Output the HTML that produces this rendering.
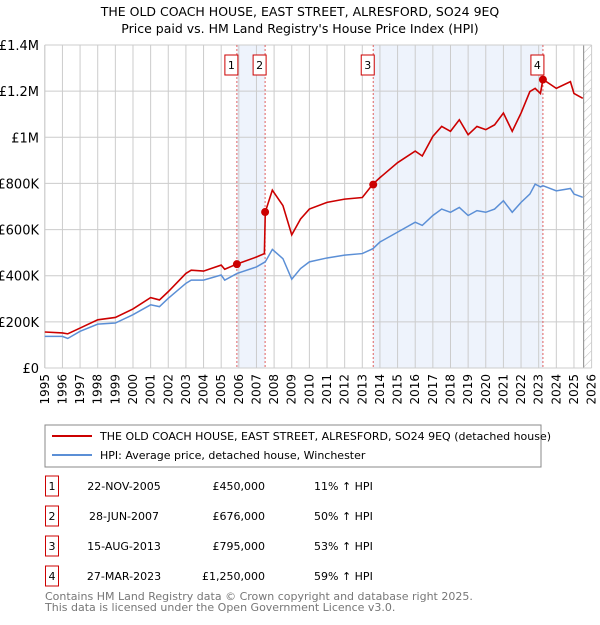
<!DOCTYPE html>
<html><head><meta charset="utf-8"><style>
body{margin:0;background:#fff;font-family:"Liberation Sans","DejaVu Sans",sans-serif;}
svg text{font-family:"DejaVu Sans","Liberation Sans",sans-serif;}
</style></head><body>
<svg id="chart" width="600" height="620" xmlns="http://www.w3.org/2000/svg">
<defs><pattern id="hatch" width="6" height="6" patternUnits="userSpaceOnUse" patternTransform="rotate(45)"><line x1="0" y1="0" x2="0" y2="6" stroke="#bbb" stroke-width="1"/></pattern></defs>
<text x="300" y="16" text-anchor="middle" font-size="12.5">THE OLD COACH HOUSE, EAST STREET, ALRESFORD, SO24 9EQ</text>
<text x="300" y="33" text-anchor="middle" font-size="12.5">Price paid vs. HM Land Registry's House Price Index (HPI)</text>
<g id="plot"></g>
<rect x="45" y="425" width="496" height="42" fill="#fff" stroke="#888"/>
<line x1="52" y1="436" x2="92" y2="436" stroke="#cc0000" stroke-width="2"/>
<text x="100" y="440" font-size="11">THE OLD COACH HOUSE, EAST STREET, ALRESFORD, SO24 9EQ (detached house)</text>
<line x1="52" y1="455" x2="92" y2="455" stroke="#5b8fd6" stroke-width="2"/>
<text x="100" y="459" font-size="11">HPI: Average price, detached house, Winchester</text>
<g id="table" font-size="11"></g>
<text x="45" y="600" font-size="11" fill="#777">Contains HM Land Registry data © Crown copyright and database right 2025.</text>
<text x="45" y="611" font-size="11" fill="#777">This data is licensed under the Open Government Licence v3.0.</text>
</svg>
<script>
const years=[1995,1996,1996.3,1997,1998,1999,2000,2001,2001.5,2002,2003,2003.3,2004,2005,2005.2,2005.9,2007,2007.45,2007.5,2007.9,2008.5,2009,2009.5,2010,2011,2012,2013,2013.6,2014,2015,2016,2016.4,2017,2017.5,2018,2018.5,2019,2019.5,2020,2020.5,2021,2021.5,2022,2022.5,2022.8,2023.1,2023.24,2024,2024.8,2025,2025.5];
const hpiValues=[137,137,128,159,190,195,231,274,266,302,367,381,381,403,381,410,438,458,460,514,474,385,431,460,477,489,496,517,546,589,632,618,661,689,675,696,661,682,675,689,725,675,718,754,797,785,790,768,778,754,740];
const priceValues=[156,152,148,173,209,219,256,305,295,331,410,424,420,446,428,451,481,496,676,771,704,577,646,689,718,732,739,797,825,890,940,919,1004,1047,1026,1076,1011,1047,1033,1054,1105,1026,1105,1198,1212,1190,1251,1212,1241,1190,1169];
const saleYears=[2005.89,2007.49,2013.62,2023.24];
const salePrices=[450,676,795,1250];
const saleDates=["22-NOV-2005","28-JUN-2007","15-AUG-2013","27-MAR-2023"];
const saleLabels=["£450,000","£676,000","£795,000","£1,250,000"];
const saleHpi=["11% ↑ HPI","50% ↑ HPI","53% ↑ HPI","59% ↑ HPI"];
const yTicks=[0,200,400,600,800,1000,1200,1400];
const yTickLabels=["£0","£200K","£400K","£600K","£800K","£1M","£1.2M","£1.4M"];
const xTicks=[1995,1996,1997,1998,1999,2000,2001,2002,2003,2004,2005,2006,2007,2008,2009,2010,2011,2012,2013,2014,2015,2016,2017,2018,2019,2020,2021,2022,2023,2024,2025,2026];
const NS="http://www.w3.org/2000/svg";
const L=44.8,R=591.6,T=45,B=368;
const X=y=>L+(y-1995)*(R-L)/31;
const Y=v=>B-v/1400*(B-T);
const g=document.getElementById('plot');
function mk(t,a,p){const e=document.createElementNS(NS,t);for(const k in a)e.setAttribute(k,a[k]);(p||g).appendChild(e);return e;}
let e;
e=mk('rect',{x:X(saleYears[0]),y:T,width:X(saleYears[1])-X(saleYears[0]),height:B-T,fill:'#eef3fc'});


e=mk('rect',{x:X(saleYears[2]),y:T,width:X(saleYears[3])-X(saleYears[2]),height:B-T,fill:'#eef3fc'});


e=mk('rect',{x:X(2025.55),y:T,width:R-X(2025.55),height:B-T,fill:'url(#hatch)'});


mk('line',{x1:X(2025.55),y1:T,x2:X(2025.55),y2:B,stroke:'#888','stroke-width':1});
xTicks.forEach(t=>{
 e=mk('line',{x1:X(t),y1:T,x2:X(t),y2:B,stroke:'#ccc','stroke-width':1});
 
 
 e=mk('text',{x:0,y:0,'font-size':12,'text-anchor':'end',transform:`translate(${X(t)+4},${B+6}) rotate(-90)`});
 e.textContent=t;
 
 
});
yTicks.forEach((t,i)=>{
 e=mk('line',{x1:L,y1:Y(t),x2:R,y2:Y(t),stroke:'#ccc','stroke-width':1});
 
 
 e=mk('text',{x:39,y:Y(t)+5,'font-size':13,'text-anchor':'end'});
 e.textContent=yTickLabels[i];
 
 
});
mk('line',{x1:L,y1:T,x2:L,y2:B,stroke:'#ccc'});
saleYears.forEach((s,i)=>{
 e=mk('line',{x1:X(s),y1:T,x2:X(s),y2:B,stroke:'#e06060','stroke-width':1,'stroke-dasharray':'2,2'});
 
 
});
e=mk('polyline',{points:years.map((y,i)=>X(y)+','+Y(hpiValues[i])).join(' '),fill:'none',stroke:'#5b8fd6','stroke-width':1.5});


e=mk('polyline',{points:years.map((y,i)=>X(y)+','+Y(priceValues[i])).join(' '),fill:'none',stroke:'#cc0000','stroke-width':1.6});


saleYears.forEach((s,i)=>{
 e=mk('circle',{cx:X(s),cy:Y(salePrices[i]),r:4,fill:'#cc0000'});
 
 
 const bx=X(s)-12;
 e=mk('rect',{x:bx,y:55,width:13,height:20,fill:'#fff',stroke:'#cc0000'});
 
 
 e=mk('text',{x:bx+6.5,y:69,'font-size':11,'text-anchor':'middle'});
 e.textContent=i+1;
 
 
});
const tb=document.getElementById('table');
const rowY=[488,518,548,578];
saleDates.forEach((d,i)=>{
 const y=rowY[i];
 e=mk('rect',{x:45.5,y:y-12,width:13,height:20,fill:'#fff',stroke:'#cc0000'},tb);
 
 
 e=mk('text',{x:52,y:y+2,'text-anchor':'middle'},tb);e.textContent=i+1;
 
 
 e=mk('text',{x:124,y:y+2,'text-anchor':'middle'},tb);e.textContent=d;
 
 
 e=mk('text',{x:265,y:y+2,'text-anchor':'end'},tb);e.textContent=saleLabels[i];
 
 
 e=mk('text',{x:314,y:y+2},tb);e.textContent=saleHpi[i];
 
 
});
</script>
</body></html>
